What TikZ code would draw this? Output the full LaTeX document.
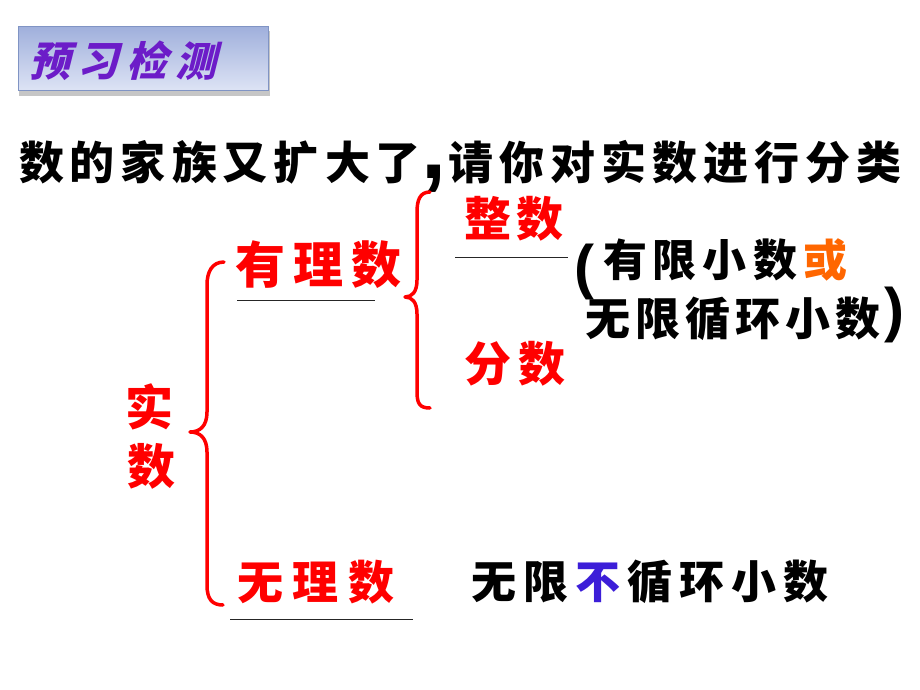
\documentclass[tikz,border=0pt]{standalone}
\usepackage{fontspec}
\newfontfamily\cjk{Noto Sans CJK SC}
\newfontfamily\cjksl{Noto Sans CJK SC}[FakeSlant=0.25]
\newfontfamily\latinb{Liberation Sans}
\definecolor{titlepurple}{RGB}{108,28,200}
\definecolor{ororange}{RGB}{255,102,0}
\definecolor{notblue}{RGB}{60,30,216}
\definecolor{boxtop}{RGB}{160,176,220}
\definecolor{boxbot}{RGB}{222,228,245}
\definecolor{boxedge}{RGB}{128,148,196}
\makeatletter
\newcommand\spaced[2]{\def\sp@gap{#1}\let\sp@first\relax\@tfor\sp@c:=#2\do{\sp@first\sp@c\def\sp@first{\kern\sp@gap}}}
\makeatother
\tikzset{
  txt/.style={inner sep=0pt, anchor=center, font=\cjk\bfseries\fontsize{#1}{#1}\selectfont},
  redtxt/.style={txt=#1, text=red},
  bracestroke/.style={draw=red, line width=3.5pt, line cap=round, line join=round},
  uline/.style={draw=black!85, line width=1pt},
  paren/.style={inner sep=0pt, anchor=base west, font=\latinb\bfseries\fontsize{#1}{#1}\selectfont}
}
\begin{document}
\begin{tikzpicture}[x=1pt,y=-1pt]
\useasboundingbox (0,0) rectangle (920,690);
% title box
\fill[gray!45] (19,31) rectangle (270,96);
\shade[top color=boxtop, bottom color=boxbot, draw=boxedge, line width=1pt] (18,27) rectangle (268,91);
\node[inner sep=0pt, anchor=center, text=titlepurple, font=\cjksl\bfseries\fontsize{41}{41}\selectfont] (title) at (123,61) {\spaced{8pt}{预习检测}};
% first line
\node[txt=45] (l1a) at (220,162) {\spaced{6pt}{数的家族又扩大了}};
\node[paren=90] (comma) at (421,178) {,};
\node[txt=45] (l1b) at (675,162) {\spaced{6pt}{请你对实数进行分类}};
% real numbers
\node[redtxt=48] (shi) at (149,407) {实};
\node[redtxt=48] (shu) at (151,466) {数};
% rational
\node[redtxt=50] (rat) at (318,265) {\spaced{8pt}{有理数}};
\draw[uline] (237,300) -- (375,300);
% integers, fractions
\node[redtxt=47] (int) at (514,219) {\spaced{6pt}{整数}};
\draw[uline] (455,257) -- (568,257);
\node[redtxt=47] (frac) at (515,364) {\spaced{8pt}{分数}};
% description
\node[paren=60] (lp) at (574,287) {(};
\node[txt=44] (d1) at (725,260) {\spaced{6pt}{有限小数{{\color{ororange}或}}}};
\node[txt=45] (d2) at (733,319) {\spaced{5pt}{无限循环小数}};
\node[paren=60] (rp) at (884,330) {)};
% irrational
\node[redtxt=46] (irr) at (316,582) {\spaced{10pt}{无理数}};
\draw[uline] (230,619) -- (413,619);
\node[txt=45] (d3) at (650,582) {\spaced{7pt}{无限{{\color{notblue}不}}循环小数}};
% small brace
\draw[bracestroke] (430,192) .. controls (420,192) and (417,200) .. (417,212)
  -- (417,280) .. controls (417,292) and (412,297) .. (405,297)
  .. controls (412,297) and (417,302) .. (417,314)
  -- (417,392) .. controls (417,404) and (420,408) .. (430,408);
% big brace
\draw[bracestroke] (224,262) .. controls (212,262) and (207,272) .. (207,285)
  -- (207,412) .. controls (207,426) and (200,432) .. (190,432)
  .. controls (200,432) and (207,438) .. (207,452)
  -- (207,585) .. controls (207,599) and (212,605) .. (223,605);
\end{tikzpicture}
\end{document}
